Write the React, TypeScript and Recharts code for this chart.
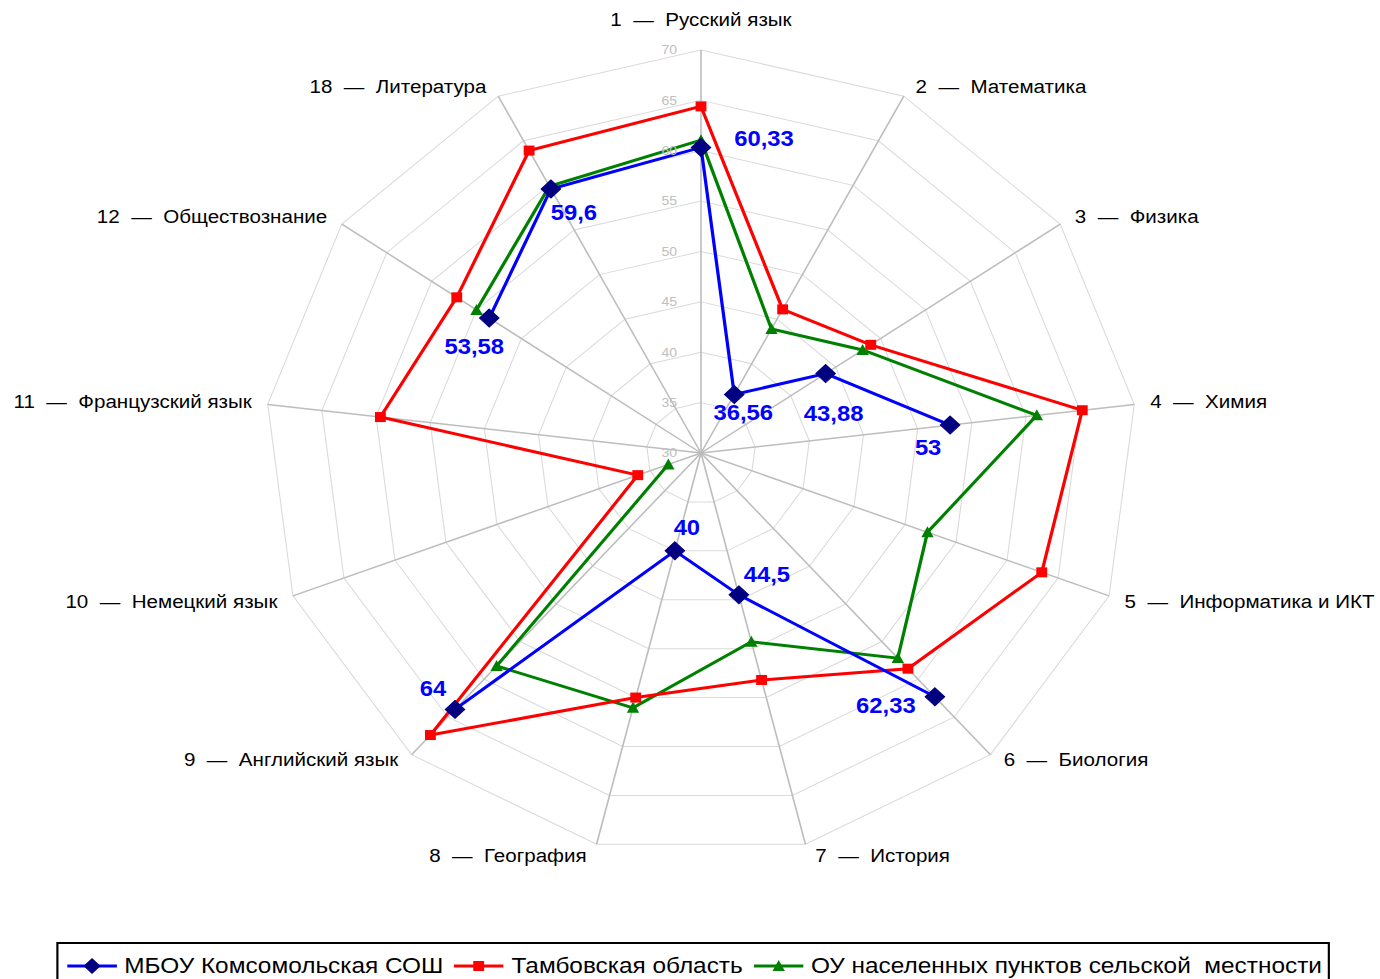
import React from "react";
import {
  RadarChart,
  Radar,
  PolarGrid,
  PolarAngleAxis,
  PolarRadiusAxis,
  LabelList,
} from "recharts";

// the source picture is stretched horizontally, so the whole chart is drawn narrower and scaled in x
const S = 1.083;
const W = 1380 / S;
const H = 979;
const CX = 701 / S;
const CY = 453;
const R = 403;
const FONT = '"Liberation Sans", Arial, sans-serif';

const subjects = [
  "1  —  Русский язык",
  "2  —  Математика",
  "3  —  Физика",
  "4  —  Химия",
  "5  —  Информатика и ИКТ",
  "6  —  Биология",
  "7  —  История",
  "8  —  География",
  "9  —  Английский язык",
  "10  —  Немецкий язык",
  "11  —  Французский язык",
  "12  —  Обществознание",
  "18  —  Литература",
];

const mbou = [60.33, 36.56, 43.88, 53, null, 62.33, 44.5, 40, 64, null, null, 53.58, 59.6];
const tambov = [64.4, 46.1, 48.9, 65.2, 63.4, 58.6, 53.2, 55.0, 67.4, 36.2, 59.6, 57.2, 63.9];
const rural = [61.05, 43.9, 48.0, 61.0, 52.2, 57.2, 49.3, 56.05, 58.25, 33.2, null, 55.0, 59.9];

const seriesNames = [
  "МБОУ Комсомольская СОШ",
  "Тамбовская область",
  "ОУ населенных пунктов сельской  местности",
];

// where each blue value label sits relative to its point (screen px)
const blueLabelOffsets = [
  [63, -9], [9, 18], [8, 40], [-22, 22], [0, 0], [-49, 9], [28, -21],
  [12, -23], [-22, -21], [0, 0], [0, 0], [-15, 28], [23, 23],
];

const data = subjects.map((subject, i) => ({
  subject,
  mbou: mbou[i],
  tambov: tambov[i],
  rural: rural[i],
}));

const ok = (v: any) => typeof v === "number" && Number.isFinite(v);

// polyline that breaks at missing values (Excel style gaps) and wraps round
const gappedShape = (values: (number | null)[], color: string) => (props: any) => {
  const pts: any[] = props.points || [];
  const valid = pts.map((p, i) => values[i] != null && ok(p.x) && ok(p.y));
  let d = "";
  if (valid.every(Boolean)) {
    d = pts.map((p, i) => `${i === 0 ? "M" : "L"}${p.x},${p.y}`).join("") + "Z";
  } else {
    const segs: any[][] = [];
    let cur: any[] = [];
    pts.forEach((p, i) => {
      if (valid[i]) cur.push(p);
      else if (cur.length) {
        segs.push(cur);
        cur = [];
      }
    });
    if (cur.length) {
      if (valid[0] && segs.length) segs[0] = [...cur, ...segs[0]];
      else segs.push(cur);
    }
    d = segs
      .map((s) => s.map((p, i) => `${i === 0 ? "M" : "L"}${p.x},${p.y}`).join(""))
      .join("");
  }
  return <path d={d} fill="none" stroke={color} strokeWidth={3} strokeLinejoin="miter" />;
};

const AngleTick = (props: any) => {
  const { x, y, payload } = props;
  const dx = x - CX;
  const dy = y - CY;
  const r = Math.hypot(dx, dy) || 1;
  const sin = dx / r;
  const cos = -dy / r;
  const ex = CX + R * sin;
  const ey = CY - R * cos;
  let tx = ex;
  let ty = ey;
  let anchor = "middle";
  if (cos > 0.99) {
    ty = ey - 31;
  } else {
    anchor = sin > 0 ? "start" : "end";
    const pad = (8 + 8 * Math.abs(sin)) / S;
    tx = ex + (sin > 0 ? pad : -pad);
    if (cos > 0.7) ty = ey - 10;
    else if (cos > 0.3) ty = ey - 8;
    else if (cos > 0) ty = ey - 3;
    else if (cos > -0.9) ty = ey + 5;
    else ty = ey + 11;
  }
  return (
    <text
      x={tx}
      y={ty}
      textAnchor={anchor}
      dominantBaseline="central"
      fontFamily={FONT}
      fontSize={19}
      fill="#000"
      style={{ whiteSpace: "pre" }}
    >
      {payload.value}
    </text>
  );
};

const RadiusTick = (props: any) => {
  const { x, y, payload } = props;
  return (
    <text
      x={x - 22}
      y={y}
      textAnchor="end"
      dominantBaseline="central"
      fontFamily={FONT}
      fontSize={13}
      fill="#c0c0c0"
    >
      {payload.value}
    </text>
  );
};

const makeDiamond = (values: (number | null)[]) => (props: any) => {
  const { cx, cy, index } = props;
  if (values[index] == null || !ok(cx) || !ok(cy)) return <g key={"d" + index} />;
  const h = 9;
  return (
    <path
      key={"d" + index}
      d={`M${cx},${cy - h}L${cx + h},${cy}L${cx},${cy + h}L${cx - h},${cy}Z`}
      fill="#000080"
      stroke="#000080"
    />
  );
};

const makeSquare = (values: (number | null)[]) => (props: any) => {
  const { cx, cy, index } = props;
  if (values[index] == null || !ok(cx) || !ok(cy)) return <g key={"s" + index} />;
  return (
    <rect key={"s" + index} x={cx - 5} y={cy - 5} width={10} height={10} fill="#FF0000" />
  );
};

const makeTriangle = (values: (number | null)[]) => (props: any) => {
  const { cx, cy, index } = props;
  if (values[index] == null || !ok(cx) || !ok(cy)) return <g key={"t" + index} />;
  return (
    <path
      key={"t" + index}
      d={`M${cx},${cy - 6}L${cx + 5.7},${cy + 5}L${cx - 5.7},${cy + 5}Z`}
      fill="#008000"
    />
  );
};

const BlueLabel = (props: any) => {
  const { x, y, index } = props;
  const value = mbou[index];
  if (value == null || !ok(x) || !ok(y)) return null;
  const [ox, oy] = blueLabelOffsets[index] || [0, 0];
  return (
    <text
      x={x + ox / S}
      y={y + oy}
      textAnchor="middle"
      dominantBaseline="central"
      fontFamily={FONT}
      fontSize={22}
      fontWeight="bold"
      fill="#0000FF"
    >
      {String(value).replace(".", ",")}
    </text>
  );
};

const LegendMark = ({ color, kind }: { color: string; kind: string }) => (
  <svg width={46} height={20} style={{ display: "block", flex: "none" }}>
    <line x1={0} y1={10} x2={46} y2={10} stroke={color} strokeWidth={3} />
    {kind === "diamond" && <path d="M23,2L31,10L23,18L15,10Z" fill="#000080" />}
    {kind === "square" && <rect x={18} y={5} width={10} height={10} fill="#FF0000" />}
    {kind === "triangle" && <path d="M23,4L28.7,15L17.3,15Z" fill="#008000" />}
  </svg>
);

const legendItems = [
  { name: seriesNames[0], color: "#0000FF", kind: "diamond" },
  { name: seriesNames[1], color: "#FF0000", kind: "square" },
  { name: seriesNames[2], color: "#008000", kind: "triangle" },
];

export default function App() {
  return (
    <div style={{ position: "absolute", left: 0, top: 0, width: 1380, height: H, overflow: "hidden", background: "#fff" }}>
      <div
        style={{
          position: "absolute",
          left: 0,
          top: 0,
          width: W,
          height: H,
          transform: `scaleX(${S})`,
          transformOrigin: "0 0",
        }}
      >
        <RadarChart
          width={W}
          height={H}
          data={data}
          cx={CX}
          cy={CY}
          outerRadius={R}
          margin={{ top: 0, right: 0, bottom: 0, left: 0 }}
        >
          <PolarGrid gridType="polygon" radialLines={false} stroke="#dadada" strokeWidth={1} />
          <PolarGrid gridType="polygon" polarRadius={[]} stroke="#bdbdbd" strokeWidth={1.5} />
          <PolarAngleAxis dataKey="subject" tick={AngleTick} tickLine={false} axisLine={false} />
          <PolarRadiusAxis
            type="number"
            angle={90}
            domain={[30, 70]}
            tickCount={9}
            axisLine={false}
            tickLine={false}
            tick={RadiusTick}
          />
          <Radar
            name={seriesNames[2]}
            dataKey="rural"
            stroke="#008000"
            fill="none"
            shape={gappedShape(rural, "#008000")}
            dot={makeTriangle(rural)}
            isAnimationActive={false}
          />
          <Radar
            name={seriesNames[1]}
            dataKey="tambov"
            stroke="#FF0000"
            fill="none"
            shape={gappedShape(tambov, "#FF0000")}
            dot={makeSquare(tambov)}
            isAnimationActive={false}
          />
          <Radar
            name={seriesNames[0]}
            dataKey="mbou"
            stroke="#0000FF"
            fill="none"
            shape={gappedShape(mbou, "#0000FF")}
            dot={makeDiamond(mbou)}
            isAnimationActive={false}
          >
            <LabelList dataKey="mbou" content={BlueLabel} />
          </Radar>
        </RadarChart>
        <div
          style={{
            position: "absolute",
            left: 56 / S,
            top: 942,
            width: (1330 - 56) / S,
            height: 60,
            boxSizing: "border-box",
            border: "2px solid #000",
            display: "flex",
            alignItems: "flex-start",
            paddingTop: 10,
            paddingLeft: 8,
            fontFamily: FONT,
            fontSize: 22.5,
            color: "#000",
            background: "#fff",
          }}
        >
          {legendItems.map((it, i) => (
            <div key={it.name} style={{ display: "flex", alignItems: "center", marginLeft: i === 0 ? 0 : 10 }}>
              <LegendMark color={it.color} kind={it.kind} />
              <span style={{ marginLeft: 7, whiteSpace: "pre", lineHeight: "24px" }}>{it.name}</span>
            </div>
          ))}
        </div>
      </div>
    </div>
  );
}
